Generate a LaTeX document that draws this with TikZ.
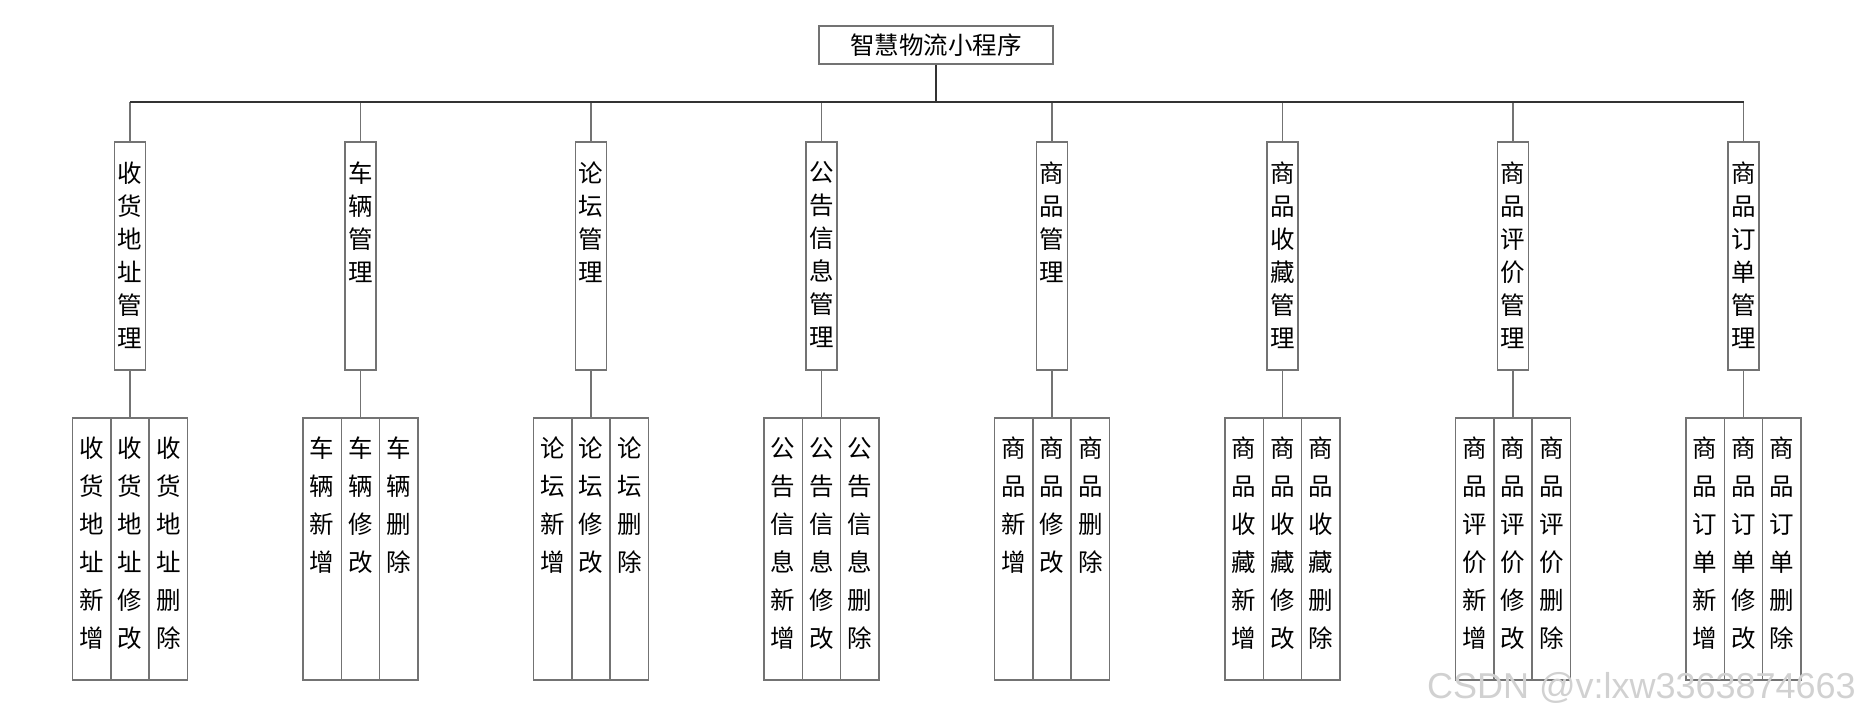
\documentclass[tikz,border=0pt]{standalone}
\usepackage{fontspec}
\newfontfamily\cjk{Noto Sans CJK SC}
\newfontfamily\wmfont{Liberation Sans}
\usetikzlibrary{calc}
\tikzset{
  ln/.style={draw=black!55, line width=1.5pt},
  dk/.style={draw=black!80, line width=1.2pt},
  rootbox/.style={ln, rectangle, minimum width=234pt, minimum height=38pt, inner sep=0pt,
     font=\cjk\fontsize{24.5}{24.5}\selectfont},
  lonebox/.style={ln, rectangle, anchor=north, minimum width=31pt, minimum height=228pt, inner sep=0pt},
  ltwobox/.style={ln, rectangle, anchor=north, minimum width=38.4pt, minimum height=262pt, inner sep=0pt},
  lonetxt/.style={anchor=north, inner sep=0pt, align=center, font=\cjk\fontsize{24.5}{33}\selectfont},
  ltwotxt/.style={anchor=north, inner sep=0pt, align=center, font=\cjk\fontsize{24.5}{38}\selectfont},
}
\begin{document}
\begin{tikzpicture}[x=1pt,y=-1pt]
\useasboundingbox (0,0) rectangle (1859,716);
\node[rootbox] (root) at (936,45) {智慧物流小程序};
\coordinate (bus) at (936,102);
% level 1
\foreach \i/\cx/\t in {
 1/130/{收\\货\\地\\址\\管\\理},
 2/360.5/{车\\辆\\管\\理},
 3/591/{论\\坛\\管\\理},
 4/821.5/{公\\告\\信\\息\\管\\理},
 5/1052/{商\\品\\管\\理},
 6/1282.5/{商\\品\\收\\藏\\管\\理},
 7/1513/{商\\品\\评\\价\\管\\理},
 8/1743.5/{商\\品\\订\\单\\管\\理}}{
  \node[lonebox] (m\i) at (\cx,141) {};
  \node[lonetxt] (mt\i) at ($(m\i.north)+(0,20.6)$) {\t};
}
\foreach \i in {1,...,8}{ \draw[ln] (m\i.north |- bus) -- (m\i.north); }
\draw[dk] (root.south) -- (bus);
\draw[dk] (m1.north |- bus) -- (m8.north |- bus);
% level 2
\foreach \i/\p/\a/\b/\c in {
 1/{收\\货\\地\\址}/{新\\增}/{修\\改}/{删\\除},
 2/{车\\辆}/{新\\增}/{修\\改}/{删\\除},
 3/{论\\坛}/{新\\增}/{修\\改}/{删\\除},
 4/{公\\告\\信\\息}/{新\\增}/{修\\改}/{删\\除},
 5/{商\\品}/{新\\增}/{修\\改}/{删\\除},
 6/{商\\品\\收\\藏}/{新\\增}/{修\\改}/{删\\除},
 7/{商\\品\\评\\价}/{新\\增}/{修\\改}/{删\\除},
 8/{商\\品\\订\\单}/{新\\增}/{修\\改}/{删\\除}}{
  \node[ltwobox] (s\i b) at ($(m\i.south)+(0,46.5)$) {};
  \node[ltwobox] (s\i a) at ($(s\i b.north)+(-38.4,0)$) {};
  \node[ltwobox] (s\i c) at ($(s\i b.north)+(38.4,0)$) {};
  \node[ltwotxt] at ($(s\i a.north)+(0,20)$) {\p\\\a};
  \node[ltwotxt] at ($(s\i b.north)+(0,20)$) {\p\\\b};
  \node[ltwotxt] at ($(s\i c.north)+(0,20)$) {\p\\\c};
  \draw[ln] (m\i.south) -- (s\i b.north);
}
\node[anchor=base east, inner sep=0pt, text=black!18, font=\wmfont\fontsize{36}{36}\selectfont] (wm) at (1856,698) {CSDN @v:lxw3363874663};
\end{tikzpicture}
\end{document}
